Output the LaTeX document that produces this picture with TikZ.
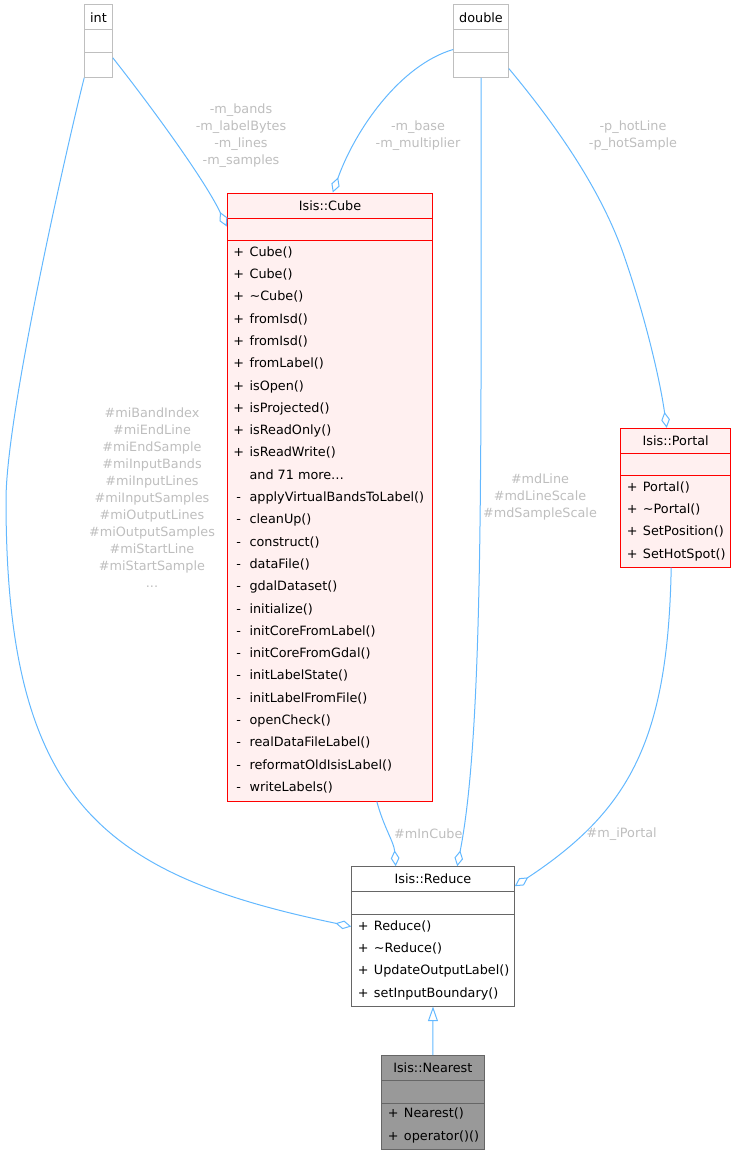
\documentclass[tikz,border=0pt]{standalone}
\usepackage{fontspec}
\setmainfont{DejaVu Sans}
\usepackage{xcolor}
\usepackage{tikz}
\usetikzlibrary{arrows.meta,calc,fit}
\definecolor{edgeblue}{HTML}{63B8FF}
\definecolor{labelgray}{HTML}{BEBEBE}
\definecolor{cubefill}{HTML}{FFF0F0}
\definecolor{typegray}{HTML}{BFBFBF}
\definecolor{framegray}{HTML}{666666}
\definecolor{nearestfill}{HTML}{999999}
\newcommand{\umlfont}{\fontsize{9.6}{12.75}\selectfont}
\newcommand{\umlclass}[7]{%
  \node[#6,fit={(#2,#3) (#4,#5)}] (#1) {};
  \draw[#6,fill=none] (#2,{#3+25}) -- (#4,{#3+25});
  \draw[#6,fill=none] (#2,{#3+47.5}) -- (#4,{#3+47.5});
  \node[umltext] (#1-title) at ({(#2+#4)/2},{#3+12.5}) {#7};}
\newcommand{\umlmembers}[4]{%
  \foreach \p/\m [count=\k from 0] in {#4}
    {\node[umltext,anchor=base] (#1-p\k) at ({#2+11.5},{#3+4.5+22.3*\k}) {\p};
     \node[umltext,anchor=base west] (#1-m\k) at ({#2+22},{#3+4.5+22.3*\k}) {\m};}}

\begin{document}
\begin{tikzpicture}[x=0.75pt,y=-0.75pt,>=Latex,
  umltext/.style={font=\umlfont,inner sep=0pt},
  typebox/.style={draw=typegray,fill=white,line width=0.75pt,inner sep=0pt},
  docbox/.style={draw=red,fill=cubefill,line width=0.75pt,inner sep=0pt},
  basebox/.style={draw=framegray,fill=white,line width=0.75pt,inner sep=0pt},
  mainbox/.style={draw=framegray,fill=nearestfill,line width=0.75pt,inner sep=0pt},
  aggr/.style={draw=edgeblue,line width=0.75pt,-{Diamond[open,length=12pt,width=6.5pt]}},
  inherit/.style={draw=edgeblue,line width=0.75pt,-{Triangle[open,length=11pt,width=7.5pt]}},
  edgelabel/.style={font=\umlfont,text=labelgray,align=center,inner sep=0pt}]
\useasboundingbox (0,0) rectangle (736,1156);
\umlclass{int}{84.7}{5}{112.3}{77.3}{typebox}{int}
\umlclass{double}{453.7}{5}{508.3}{77.3}{typebox}{double}
\umlclass{cube}{227.3}{193}{432.7}{801}{docbox}{Isis::Cube}
\umlclass{portal}{620.7}{428.3}{730.7}{567}{docbox}{Isis::Portal}
\umlclass{reduce}{351.7}{866.7}{514.3}{1006}{basebox}{Isis::Reduce}
\umlclass{nearest}{381.7}{1055.7}{484}{1149}{mainbox}{Isis::Nearest}
\umlmembers{cube}{227.3}{251.7}{+/Cube(), +/Cube(), +/\textasciitilde Cube(), +/fromIsd(), +/fromIsd(), +/fromLabel(), +/isOpen(), +/isProjected(), +/isReadOnly(), +/isReadWrite(), {}/and 71 more\ldots, -/applyVirtualBandsToLabel(), -/cleanUp(), -/construct(), -/dataFile(), -/gdalDataset(), -/initialize(), -/initCoreFromLabel(), -/initCoreFromGdal(), -/initLabelState(), -/initLabelFromFile(), -/openCheck(), -/realDataFileLabel(), -/reformatOldIsisLabel(), -/writeLabels()}
\umlmembers{portal}{620.7}{486.7}{+/Portal(), +/\textasciitilde Portal(), +/SetPosition(), +/SetHotSpot()}
\umlmembers{reduce}{351.7}{925.7}{+/Reduce(), +/\textasciitilde Reduce(), +/UpdateOutputLabel(), +/setInputBoundary()}
\umlmembers{nearest}{381.7}{1113.3}{+/Nearest(), +/operator()()}
\draw[aggr] ($(int.north east)+(0,53.3)$) .. controls (150,105) and (205,180) .. ($(cube.north west)+(0,34)$);
\draw[aggr] ($(double.north west)+(0,45)$) .. controls (400,65) and (355,130) .. ($(cube.north west)+(106,0)$);
\draw[aggr] (int.south west) .. controls (70,134) and (6,412) .. (6,500) .. controls (6,800) and (101,874.5) .. ($(reduce.north west)+(0,60.3)$);
\draw[aggr] (double.south) .. controls (481,450) and (484,730) .. ($(reduce.north west)+(106,0)$);
\draw[aggr] ($(double.north east)+(0,64)$) .. controls (560,130) and (600,190) .. (622,250) .. controls (645,315) and (660,380) .. ($(portal.north west)+(46.5,0)$);
\draw[aggr] ($(cube.south west)+(150,0)$) .. controls (384,828) and (394,842) .. ($(reduce.north west)+(44.5,0)$);
\draw[aggr] ($(portal.south west)+(51,0)$) .. controls (668,740) and (630,810) .. ($(reduce.north east)+(0,20)$);
\draw[inherit] (nearest.north) -- (reduce.south);
\node[edgelabel] (bandslabel) at (241,135.5) {-m\_bands\\-m\_labelBytes\\-m\_lines\\-m\_samples};
\node[edgelabel] (baselabel) at (418,135.5) {-m\_base\\-m\_multiplier};
\node[edgelabel] (hotlabel) at (633,135.5) {-p\_hotLine\\-p\_hotSample};
\node[edgelabel] (milabel) at (152,497.2) {\#miBandIndex\\\#miEndLine\\\#miEndSample\\\#miInputBands\\\#miInputLines\\\#miInputSamples\\\#miOutputLines\\\#miOutputSamples\\\#miStartLine\\\#miStartSample\\...};
\node[edgelabel] (mdlabel) at (540,497) {\#mdLine\\\#mdLineScale\\\#mdSampleScale};
\node[edgelabel] (incubelabel) at (428.3,834) {\#mInCube};
\node[edgelabel] (iportallabel) at (621.7,834) {\#m\_iPortal};
\end{tikzpicture}
\end{document}
